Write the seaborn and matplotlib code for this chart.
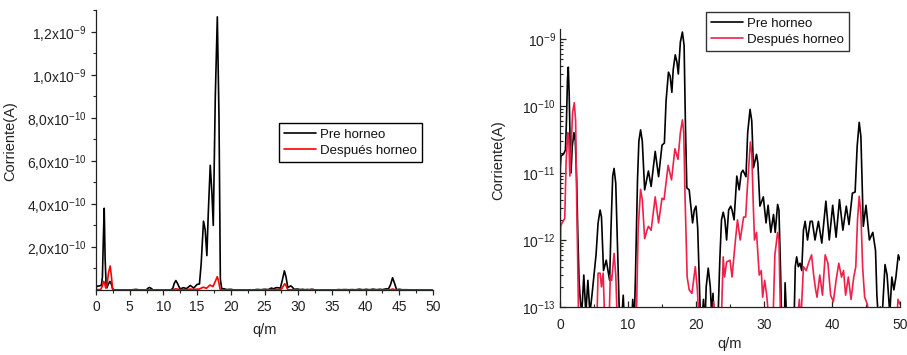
import numpy as np
import pandas as pd
import matplotlib
matplotlib.use("Agg")
import matplotlib.pyplot as plt
import matplotlib.ticker as mticker
import seaborn as sns

# ---------------- data ----------------
series_names = ["Pre horneo", "Después horneo"]

q_pre = [0.0, 0.05, 0.15, 0.5, 0.8, 0.95, 1.1, 1.22, 1.35, 1.5, 1.62, 1.8, 2.05, 2.25, 2.45, 2.6,
         2.8, 3.0, 3.2, 3.5, 3.8, 4.1, 4.4, 4.7, 5.0, 5.3, 5.6, 5.9, 6.1, 6.4, 6.8, 7.3, 7.5,
         7.75, 7.95, 8.2, 8.45, 8.7, 9.0, 9.3, 9.5, 10.5, 10.7, 10.9, 11.1, 11.4, 11.6, 11.85,
         12.1, 12.45, 13.0, 13.4, 14.0, 14.5, 15.0, 15.35, 15.6, 15.95, 16.2, 16.45, 16.65,
         16.95, 17.2, 17.4, 17.7, 18.0, 18.25, 18.45, 18.65, 19.0, 19.2, 19.5, 19.75, 20.0,
         20.25, 20.6, 20.8, 21.1, 21.3, 21.5, 21.8, 22.1, 22.3, 22.5, 22.7, 23.2, 23.5, 23.75,
         24.0, 24.25, 24.5, 24.8, 25.1, 25.3, 25.6, 26.0, 26.35, 26.65, 26.9, 27.2, 27.35,
         27.6, 27.95, 28.2, 28.45, 28.9, 29.1, 29.4, 29.9, 30.3, 30.6, 31.0, 31.4, 31.65, 32.0,
         32.2, 32.45, 32.6, 33.0, 33.1, 33.3, 33.5, 34.4, 34.6, 34.8, 35.05, 35.3, 35.55, 35.8,
         36.05, 36.4, 36.8, 37.1, 37.5, 38.0, 38.5, 39.1, 39.6, 40.1, 40.6, 41.1, 41.6, 42.1,
         42.5, 43.0, 43.4, 43.7, 44.0, 44.25, 44.6, 45.0, 45.5, 46.0, 46.4, 46.6, 46.9, 47.1,
         47.4, 47.8, 48.1, 48.5, 48.8, 49.1, 49.4, 49.75, 50.0]
i_pre = [5e-14, 1.2e-11, 1.8e-11, 1.9e-11, 2.2e-11, 6e-11, 2.5e-10, 3.8e-10, 1.5e-10, 2.5e-11,
         1.0e-11, 2.5e-11, 4.0e-11, 3.0e-11, 8e-12, 1.5e-12, 2.5e-13, 1.2e-13, 8e-14, 3e-13,
         8e-14, 2.5e-13, 8e-14, 1.5e-13, 3e-13, 6e-13, 1.8e-12, 2.8e-12, 2.2e-12, 3.5e-13,
         5e-13, 2.5e-13, 1.5e-12, 9e-12, 1.17e-11, 7e-12, 8e-13, 1e-13, 5e-14, 1.5e-13, 5e-14,
         5e-14, 1.3e-13, 5e-14, 3e-13, 8e-12, 3e-11, 4.4e-11, 3e-11, 5.6e-12, 1.07e-11, 6.3e-12,
         2.1e-11, 8.8e-12, 2.6e-11, 2.8e-11, 1.2e-10, 3.2e-10, 2.8e-10, 1.6e-10, 3.5e-10,
         5.8e-10, 4.5e-10, 3.0e-10, 9e-10, 1.27e-9, 8e-10, 5e-11, 6e-12, 5.6e-12, 3.5e-12,
         1.8e-12, 2.8e-12, 3.2e-12, 1.5e-12, 1e-13, 5e-14, 1.3e-13, 5e-14, 2e-13, 3.8e-13,
         2e-13, 8e-14, 1.6e-13, 5e-14, 5e-14, 5e-13, 2e-12, 2.6e-12, 2e-12, 1.0e-12, 2.8e-12,
         3.2e-12, 2.8e-12, 2e-12, 9e-12, 5.6e-12, 1.0e-11, 1.1e-11, 9.5e-12, 8.8e-12, 4e-11,
         8.9e-11, 6e-11, 1.2e-11, 1.9e-11, 1.4e-11, 3.2e-12, 4.4e-12, 1.8e-12, 3.3e-12,
         1.3e-12, 2.4e-12, 1.3e-12, 3.4e-12, 2.8e-12, 3e-13, 5e-14, 5e-14, 2.3e-13, 8e-14,
         5e-14, 5e-14, 4e-13, 5.6e-13, 4e-13, 4.5e-13, 3.5e-13, 1.4e-12, 1.9e-12, 1.0e-12,
         1.9e-12, 1.9e-12, 1.0e-12, 1.9e-12, 9e-13, 3.8e-12, 1.0e-12, 3.3e-12, 1.1e-12,
         4.0e-12, 1.4e-12, 3.2e-12, 1.7e-12, 5e-12, 5.2e-12, 2.5e-11, 5.7e-11, 3.5e-11,
         1.6e-12, 3.3e-12, 1.0e-12, 1.3e-12, 7e-13, 1.5e-13, 5e-14, 1e-13, 8e-14, 4.3e-13,
         3e-13, 8e-14, 2.8e-13, 1.8e-13, 2.8e-13, 6e-13, 5e-13]

q_post = [0.0, 0.1, 0.3, 0.7, 0.9, 1.15, 1.3, 1.45, 1.65, 1.85, 2.1, 2.3, 2.45, 2.6, 2.75, 5.4,
          5.6, 5.9, 6.1, 6.35, 6.6, 7.2, 7.4, 7.6, 7.95, 8.2, 8.45, 11.2, 11.5, 11.85, 12.1,
          12.45, 12.8, 13.0, 13.4, 14.0, 14.5, 15.0, 15.3, 15.9, 16.4, 16.9, 17.35, 17.7, 18.0,
          18.2, 18.4, 18.7, 19.0, 19.4, 19.9, 20.2, 20.5, 22.4, 22.6, 22.8, 23.7, 24.0, 24.2,
          24.5, 25.0, 25.3, 25.8, 26.1, 26.5, 27.0, 27.3, 27.55, 28.0, 28.2, 28.4, 28.6, 28.9,
          29.3, 29.6, 29.8, 30.1, 30.4, 30.8, 31.3, 31.6, 32.0, 32.2, 32.45, 34.9, 35.2, 35.4,
          35.6, 35.8, 36.2, 36.6, 37.0, 37.3, 37.6, 37.8, 38.2, 38.6, 39.0, 39.4, 39.8, 40.2,
          40.6, 41.0, 41.4, 41.7, 42.0, 42.4, 42.8, 43.2, 43.5, 43.75, 44.0, 44.25, 44.5, 44.8,
          45.2, 45.5, 49.5, 49.7, 50.0]
i_post = [5e-14, 1.6e-12, 1.8e-12, 2.1e-12, 1.5e-11, 4e-11, 3e-11, 9e-12, 2.5e-11, 8e-11,
          1.12e-10, 6e-11, 4e-12, 5e-13, 5e-14, 5e-14, 3.2e-13, 3.2e-13, 2e-13, 3.2e-13, 5e-14,
          5e-14, 3e-13, 2.5e-13, 6.3e-13, 3e-13, 5e-14, 5e-14, 1.5e-12, 5.7e-12, 4e-12,
          1.05e-12, 1.4e-12, 1.6e-12, 1.4e-12, 4.4e-12, 1.8e-12, 4.2e-12, 4.0e-12, 1.3e-11,
          7.9e-12, 2.3e-11, 1.6e-11, 4e-11, 6.2e-11, 4e-11, 4e-12, 2.8e-13, 1.8e-13, 1.6e-13,
          4e-13, 1.8e-13, 5e-14, 5e-14, 1.2e-13, 5e-14, 5e-14, 5.6e-13, 2.8e-13, 4.7e-13,
          5e-13, 2.8e-13, 1e-12, 2e-12, 1e-12, 2.2e-12, 2.2e-12, 6e-12, 2.9e-11, 2e-11, 4e-12,
          1e-12, 1.3e-12, 3e-13, 3.5e-13, 1.4e-13, 2.5e-13, 1.5e-13, 5e-14, 5e-14, 6e-13,
          1.3e-12, 1e-12, 5e-14, 5e-14, 1.3e-13, 5e-14, 1.5e-13, 4e-13, 3.5e-13, 4.7e-13, 6e-13,
          3e-13, 1.8e-13, 1.4e-13, 3e-13, 1.5e-13, 6e-13, 4.5e-13, 1.5e-13, 1.2e-13, 2.5e-13,
          4.5e-13, 2.8e-13, 3.5e-13, 1.5e-13, 2.8e-13, 1.3e-13, 2.8e-13, 4e-13, 2e-12, 4.5e-12,
          2.5e-12, 4e-13, 1.4e-13, 1.1e-13, 5e-14, 5e-14, 1.3e-13, 1.1e-13]

lin_yticks = [2e-10, 4e-10, 6e-10, 8e-10, 1.0e-9, 1.2e-9]
lin_yticklabels = [r"2,0x10$^{-10}$", r"4,0x10$^{-10}$", r"6,0x10$^{-10}$",
                   r"8,0x10$^{-10}$", r"1,0x10$^{-9}$", r"1,2x10$^{-9}$"]
log_yticks = [1e-13, 1e-12, 1e-11, 1e-10, 1e-9]
log_yticklabels = [r"10$^{-13}$", r"10$^{-12}$", r"10$^{-11}$", r"10$^{-10}$", r"10$^{-9}$"]

# ---------------- style ----------------
sns.set_style("ticks")
plt.rcParams["font.family"] = ["Liberation Sans", "DejaVu Sans"]
plt.rcParams["mathtext.fontset"] = "custom"
plt.rcParams["mathtext.rm"] = "Liberation Sans"
plt.rcParams["mathtext.it"] = "Liberation Sans:italic"
plt.rcParams["mathtext.bf"] = "Liberation Sans:bold"

df = pd.concat([
    pd.DataFrame({"q": q_pre, "I": i_pre, "serie": series_names[0]}),
    pd.DataFrame({"q": q_post, "I": i_post, "serie": series_names[1]}),
], ignore_index=True)

W, H = 907, 355
fig = plt.figure(figsize=(W / 100, H / 100), dpi=100)

# ---------------- left: linear ----------------
ax1 = fig.add_axes([96 / W, 1 - 290 / H, 337 / W, 280 / H])
sns.lineplot(data=df, x="q", y="I", hue="serie", hue_order=series_names,
             palette=["#000000", "#ff0000"], estimator=None, sort=False,
             linewidth=1.2, ax=ax1, legend=True)
ax1.set_xlim(0, 50)
ax1.set_ylim(0, 1.302e-9)
ax1.set_xticks(range(0, 51, 5))
ax1.xaxis.set_minor_locator(mticker.MultipleLocator(2.5))
ax1.set_yticks(lin_yticks)
ax1.set_yticklabels(lin_yticklabels)
ax1.yaxis.set_minor_locator(mticker.FixedLocator([1e-10, 3e-10, 5e-10, 7e-10, 9e-10, 1.1e-9, 1.3e-9]))
ax1.tick_params(axis="both", which="major", direction="out", length=3.5, width=0.9,
                labelsize=10, colors="#222222", labelcolor="#222222", pad=3)
ax1.tick_params(axis="x", which="major", pad=4)
ax1.tick_params(axis="both", which="minor", direction="out", length=2, width=0.8, colors="#222222")
for s in ["top", "right"]:
    ax1.spines[s].set_visible(False)
for s in ["left", "bottom"]:
    ax1.spines[s].set_linewidth(0.9)
    ax1.spines[s].set_color("#222222")
ax1.set_xlabel("q/m", fontsize=10.5, color="#222222")
ax1.set_ylabel("Corriente(A)", fontsize=10.5, color="#222222")
ax1.xaxis.set_label_coords(0.5, -0.118)
ax1.yaxis.set_label_coords(-0.235, 0.53)
h, l = ax1.get_legend_handles_labels()
leg1 = ax1.legend(h, l, loc="upper left", bbox_to_anchor=(279 / W, 1 - 123 / H),
                  bbox_transform=fig.transFigure, fontsize=9.5, frameon=True, fancybox=False,
                  edgecolor="#000000", framealpha=1, borderpad=0.4, labelspacing=0.3,
                  handlelength=2.4, handletextpad=0.3, borderaxespad=0)
leg1.get_frame().set_linewidth(1.0)
for t in leg1.get_texts():
    t.set_color("#111111")

# ---------------- right: log ----------------
ax2 = fig.add_axes([560 / W, 1 - 307 / H, 340 / W, 278 / H])
sns.lineplot(data=df, x="q", y="I", hue="serie", hue_order=series_names,
             palette=["#000000", "#f0204a"], estimator=None, sort=False,
             linewidth=1.2, ax=ax2, legend=True)
ax2.set_yscale("log")
ax2.set_xlim(0, 50)
ax2.set_ylim(1e-13, 10 ** (-13 + 278 / 67))
ax2.set_xticks(range(0, 51, 10))
ax2.xaxis.set_minor_locator(mticker.MultipleLocator(5))
ax2.set_yticks(log_yticks)
ax2.set_yticklabels(log_yticklabels)
ax2.yaxis.set_minor_locator(mticker.LogLocator(base=10, subs=np.arange(2, 10), numticks=20))
ax2.yaxis.set_minor_formatter(mticker.NullFormatter())
ax2.tick_params(axis="both", which="major", direction="in", length=4, width=0.9,
                labelsize=10, colors="#222222", labelcolor="#222222", pad=3)
ax2.tick_params(axis="x", which="major", pad=8)
ax2.tick_params(axis="both", which="minor", direction="in", length=2.2, width=0.8, colors="#222222")
for s in ["top", "right"]:
    ax2.spines[s].set_visible(False)
for s in ["left", "bottom"]:
    ax2.spines[s].set_linewidth(0.9)
    ax2.spines[s].set_color("#222222")
ax2.set_xlabel("q/m", fontsize=10.5, color="#222222")
ax2.set_ylabel("Corriente(A)", fontsize=10.5, color="#222222")
ax2.xaxis.set_label_coords(0.5, -0.108)
ax2.yaxis.set_label_coords(-0.162, 0.53)
h, l = ax2.get_legend_handles_labels()
leg2 = ax2.legend(h, l, loc="upper left", bbox_to_anchor=(706 / W, 1 - 12 / H),
                  bbox_transform=fig.transFigure, fontsize=9.5, frameon=True, fancybox=False,
                  edgecolor="#333333", framealpha=1, borderpad=0.4, labelspacing=0.3,
                  handlelength=2.4, handletextpad=0.3, borderaxespad=0)
leg2.get_frame().set_linewidth(1.0)
for t in leg2.get_texts():
    t.set_color("#111111")

fig.savefig("out.png", dpi=100, facecolor="white")
